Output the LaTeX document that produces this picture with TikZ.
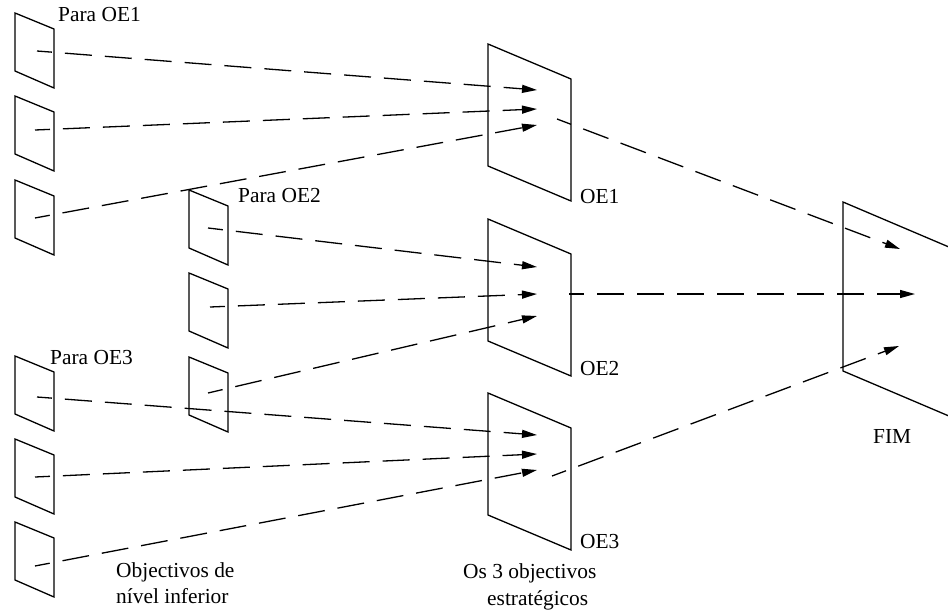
\documentclass[tikz,border=0pt]{standalone}
\usepackage{fontspec}
\setmainfont{Liberation Serif}
\usetikzlibrary{arrows.meta}
\begin{document}
\begin{tikzpicture}[x=1pt,y=-1pt,
  panelline/.style={line width=1.3pt,line join=miter},
  flow/.style={line width=1.3pt,dash pattern=on 27pt off 13pt,dash phase=12pt,
    -{Triangle[length=15pt,width=8pt]}},
  lbl/.style={anchor=base west,inner sep=0pt,font=\fontsize{21.4}{26}\selectfont},
  smallpanel/.pic={\draw[panelline] (0,0) -- (39,16) -- (39,75) -- (0,58) -- cycle;},
  bigpanel/.pic={\draw[panelline] (0,0) -- (83,35) -- (83,157) -- (0,122) -- cycle;},
  endpanel/.pic={\draw[panelline] (0,0) -- (120,51) -- (120,220) -- (0,169) -- cycle;}]
\clip (0,0) rectangle (948,613);

% lower-level objectives, first column
\pic at (15,13)  {smallpanel};
\pic at (15,96)  {smallpanel};
\pic at (15,180) {smallpanel};
\pic at (15,356) {smallpanel};
\pic at (15,439) {smallpanel};
\pic at (15,522) {smallpanel};
% lower-level objectives, second column
\pic at (189,190) {smallpanel};
\pic at (189,273) {smallpanel};
\pic at (189,357) {smallpanel};
% strategic objectives
\pic at (488,44)  {bigpanel};
\pic at (488,219) {bigpanel};
\pic at (488,393) {bigpanel};
% final goal
\pic at (843,202) {endpanel};

% connector ends
\coordinate (s1) at (37,51);   \coordinate (t1) at (537,90);
\coordinate (s2) at (35,130);  \coordinate (t2) at (537,109);
\coordinate (s3) at (35,218);  \coordinate (t3) at (537,125);
\coordinate (s4) at (208,228); \coordinate (t4) at (537,267);
\coordinate (s5) at (210,307); \coordinate (t5) at (537,294);
\coordinate (s6) at (208,393); \coordinate (t6) at (537,316);
\coordinate (s7) at (37,397);  \coordinate (t7) at (537,435);
\coordinate (s8) at (35,477);  \coordinate (t8) at (537,454);
\coordinate (s9) at (35,566);  \coordinate (t9) at (537,470);
\coordinate (e1) at (557,119); \coordinate (f1) at (900,249);
\coordinate (e2) at (569,294); \coordinate (f2) at (915,294);
\coordinate (e3) at (552,476); \coordinate (f3) at (899,346);

\foreach \i in {1,...,9} {\draw[flow] (s\i) -- (t\i);}
\foreach \i in {1,2,3} {\draw[flow] (e\i) -- (f\i);}

% labels
\node[lbl] (pOE1) at (58,21)   {Para OE1};
\node[lbl] (pOE2) at (238,202) {Para OE2};
\node[lbl] (pOE3) at (50,364)  {Para OE3};
\node[lbl] (lOE1) at (580,203) {OE1};
\node[lbl] (lOE2) at (580,375) {OE2};
\node[lbl] (lOE3) at (580,548) {OE3};
\node[lbl] (lFIM) at (873,443) {FIM};
\node[lbl] (low1) at (116,577) {Objectivos de};
\node[lbl] (low2) at (116,603) {nível inferior};
\node[lbl] (str1) at (463,578) {Os 3 objectivos};
\node[lbl] (str2) at (487,605) {estratégicos};
\end{tikzpicture}
\end{document}
